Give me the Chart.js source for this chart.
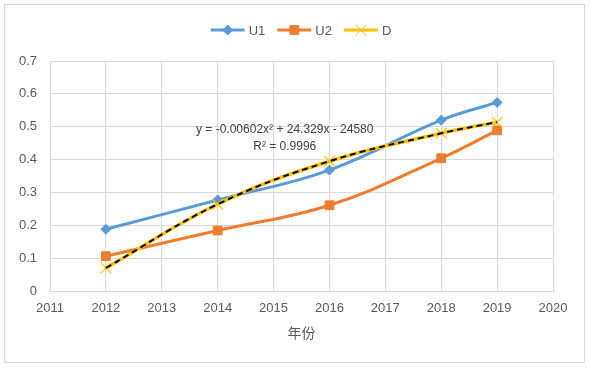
<!DOCTYPE html>
<html><head><meta charset="utf-8">
<script src="https://cdn.jsdelivr.net/npm/chart.js@4/dist/chart.umd.min.js"></script>
<style>
html,body{margin:0;padding:0;background:#fff;}
#wrap{position:relative;width:590px;height:369px;}
#frame{position:absolute;left:4px;top:4px;width:581px;height:359px;border:1px solid #d9d9d9;pointer-events:none;box-sizing:border-box;}
</style></head>
<body>
<div id="wrap"><canvas id="c" width="590" height="369"></canvas><div id="frame"></div></div>
<script>
const years = [2012, 2014, 2016, 2018, 2019];
const u1 = [0.188, 0.277, 0.368, 0.520, 0.574];
const u2 = [0.106, 0.184, 0.261, 0.404, 0.489];
const d  = [0.070, 0.264, 0.395, 0.480, 0.514];
const seriesNames = ['U1', 'U2', 'D'];
const trendText = ['y = -0.00602x\u00B2 + 24.329x - 24580', 'R\u00B2 = 0.9996'];
const xTicks = [2011, 2020];
const yTicks = [0, 0.7];

const pts = arr => years.map((x, i) => ({x, y: arr[i]}));
const FONT = "'Liberation Sans', 'Open Sans', sans-serif";
const C1 = '#5B9BD5', C2 = '#ED7D31', C3 = '#FFC000';

const legendPlugin = {
  id: 'customLegend',
  afterDraw(chart) {
    const ctx = chart.ctx;
    const items = [
      {name: seriesNames[0], color: C1, style: 'rectRot', r: 5},
      {name: seriesNames[1], color: C2, style: 'rect', r: 6.2},
      {name: seriesNames[2], color: C3, style: 'crossRot', r: 7.5}
    ];
    ctx.save();
    ctx.font = '13px ' + FONT;
    const lineW = 34, gap = 4, sep = 12;
    let total = 0;
    items.forEach((it, i) => { it.tw = ctx.measureText(it.name).width; total += lineW + gap + it.tw + (i ? sep : 0); });
    let x = 301 - total / 2;
    const y = 30;
    items.forEach((it, i) => {
      if (i) x += sep;
      ctx.strokeStyle = it.color; ctx.lineWidth = 3;
      ctx.beginPath(); ctx.moveTo(x, y); ctx.lineTo(x + lineW, y); ctx.stroke();
      ctx.fillStyle = it.color;
      ctx.strokeStyle = it.color;
      ctx.lineWidth = 1;
      Chart.helpers.drawPoint(ctx, {pointStyle: it.style, radius: it.r, borderWidth: 1, rotation: 0}, x + lineW / 2, y);
      x += lineW + gap;
      ctx.fillStyle = '#595959';
      ctx.textBaseline = 'middle';
      ctx.fillText(it.name, x, y + 1);
      x += it.tw;
    });
    ctx.restore();
  }
};

const trendLabelPlugin = {
  id: 'trendLabel',
  afterDatasetsDraw(chart) {
    const ctx = chart.ctx;
    const xs = chart.scales.x, ys = chart.scales.y;
    const cx = xs.getPixelForValue(2015.2), cy = ys.getPixelForValue(0.49);
    ctx.save();
    ctx.font = '12px ' + FONT;
    ctx.fillStyle = '#404040';
    ctx.textAlign = 'center';
    ctx.textBaseline = 'middle';
    ctx.fillText(trendText[0], cx, cy);
    ctx.fillText(trendText[1], cx, cy + 17);
    ctx.restore();
  }
};

new Chart(document.getElementById('c'), {
  type: 'line',
  data: {
    datasets: [
      {label: seriesNames[0], data: pts(u1), borderColor: C1, backgroundColor: C1, borderWidth: 3,
       pointStyle: 'rectRot', pointRadius: 5, pointBorderWidth: 1, tension: 0.4, order: 3},
      {label: seriesNames[1], data: pts(u2), borderColor: C2, backgroundColor: C2, borderWidth: 3,
       pointStyle: 'rect', pointRadius: 6.2, pointBorderWidth: 1, tension: 0.4, order: 2},
      {label: seriesNames[2], data: pts(d), borderColor: C3, backgroundColor: C3, borderWidth: 3.5,
       pointStyle: 'crossRot', pointRadius: 7.5, pointBorderWidth: 1.2, tension: 0.4, order: 1},
      {label: 'trend', data: pts(d), borderColor: '#000', borderWidth: 2, borderDash: [6, 4],
       pointRadius: 0, tension: 0.4, order: 0}
    ]
  },
  options: {
    responsive: false,
    animation: false,
    layout: {padding: {left: 0, right: 37, top: 61, bottom: 28}},
    plugins: {legend: {display: false}, tooltip: {enabled: false}},
    scales: {
      x: {
        type: 'linear', min: xTicks[0], max: xTicks[1],
        ticks: {stepSize: 1, color: '#595959', font: {size: 13, family: FONT}, padding: 10, callback: v => String(v)},
        grid: {color: '#d9d9d9', drawTicks: false},
        border: {color: '#d9d9d9'},
        title: {display: true, text: '年份', color: '#595959', font: {size: 14, family: "'Noto Sans CJK SC', sans-serif"}, padding: {top: 0, bottom: 0}},
        afterFit(s) { s.height = 50; }
      },
      y: {
        min: yTicks[0], max: yTicks[1],
        ticks: {stepSize: 0.1, color: '#595959', font: {size: 13, family: FONT}, padding: 13, callback: v => Number(v.toFixed(1)).toString()},
        grid: {color: '#d9d9d9', drawTicks: false},
        border: {display: false},
        afterFit(s) { s.width = 50; }
      }
    }
  },
  plugins: [legendPlugin, trendLabelPlugin]
});
</script>
</body></html>
